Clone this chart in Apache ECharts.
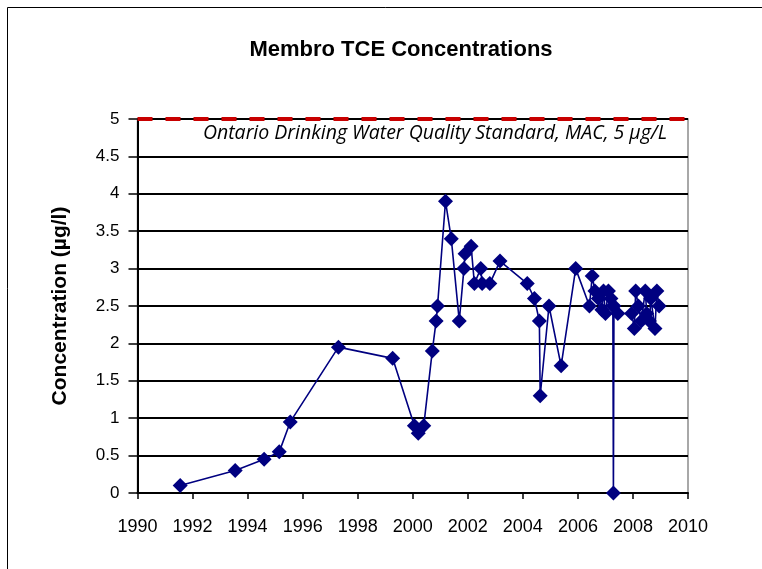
<!DOCTYPE html>
<html>
<head>
<meta charset="utf-8">
<script src="https://cdn.jsdelivr.net/npm/echarts@6/dist/echarts.min.js"></script>
<style>
  html, body { margin: 0; padding: 0; background: #fff; }
  #chart { width: 762px; height: 569px; }
</style>
</head>
<body>
<div id="chart"></div>
<script>
// Sampling dates (decimal years) and measured TCE concentrations (µg/L)
const sampleDates = [
  1991.55, 1993.55, 1994.6, 1995.15, 1995.55, 1997.3, 1999.27,
  2000.06, 2000.2, 2000.4, 2000.71, 2000.85, 2000.9, 2001.19, 2001.4,
  2001.69, 2001.86, 2001.9, 2002.12, 2002.24, 2002.47, 2002.52, 2002.8,
  2003.17, 2004.16, 2004.42, 2004.6, 2004.63, 2004.95, 2005.39, 2005.92,
  2006.42, 2006.52, 2006.62, 2006.74, 2006.87, 2006.93, 2007.0, 2007.11,
  2007.2, 2007.27, 2007.29, 2007.31, 2007.45, 2007.95, 2008.05, 2008.1,
  2008.2, 2008.3, 2008.45, 2008.5, 2008.6, 2008.65, 2008.8, 2008.87, 2008.95
];
const tceValues = [
  0.1, 0.3, 0.45, 0.55, 0.95, 1.95, 1.8,
  0.9, 0.8, 0.9, 1.9, 2.3, 2.5, 3.9, 3.4,
  2.3, 3.0, 3.2, 3.3, 2.8, 3.0, 2.8, 2.8,
  3.1, 2.8, 2.6, 2.3, 1.3, 2.5, 1.7, 3.0,
  2.5, 2.9, 2.7, 2.6, 2.45, 2.7, 2.4, 2.7,
  2.6, 2.5, 0, 2.5, 2.4, 2.4, 2.2, 2.7,
  2.5, 2.3, 2.7, 2.4, 2.3, 2.6, 2.2, 2.7, 2.5
];

// Ontario Drinking Water Quality Standard (MAC) drawn across the full date range
const standardDates = [1990, 2010];
const standardValues = [5, 5];

const yTickLabels = ['0', '0.5', '1', '1.5', '2', '2.5', '3', '3.5', '4', '4.5', '5'];

const chart = echarts.init(document.getElementById('chart'), null, { renderer: 'canvas' });

const option = {
  backgroundColor: '#ffffff',
  animation: false,
  title: {
    text: 'Membro TCE Concentrations',
    left: 396,
    top: 34,
    textAlign: 'center',
    textStyle: { fontFamily: 'Liberation Sans, Arial', fontWeight: 'bold', fontSize: 22, color: '#000' }
  },
  graphic: [
    {
      type: 'rect',
      shape: { x: 7.5, y: 7.5, width: 800, height: 600 },
      style: { fill: 'none', stroke: '#000', lineWidth: 1 },
      silent: true, z: -10
    },
    {
      type: 'text',
      x: 667, y: 133,
      style: {
        text: 'Ontario Drinking Water Quality Standard, MAC, 5 \u00b5g/L',
        font: 'italic 19.5px "Open Sans", Lato, sans-serif',
        fill: '#000',
        align: 'right',
        verticalAlign: 'middle'
      },
      z: 50
    }
  ],
  grid: {
    left: 137.5, top: 119, width: 550.5, height: 374,
    show: true, borderColor: '#8c8c8c', borderWidth: 1.5, backgroundColor: 'transparent'
  },
  xAxis: {
    type: 'value',
    min: 1990, max: 2010, interval: 2,
    axisLine: { show: true, onZero: false, lineStyle: { color: '#000', width: 2 } },
    axisTick: { show: true, inside: false, length: 6, lineStyle: { color: '#000', width: 1.5 } },
    axisLabel: {
      margin: 25, color: '#000', fontSize: 18, fontFamily: 'Liberation Sans, Arial',
      formatter: v => String(Math.round(v))
    },
    splitLine: { show: false }
  },
  yAxis: {
    type: 'value',
    min: 0, max: 5, interval: 0.5,
    name: 'Concentration (\u00b5g/l)',
    nameLocation: 'middle',
    nameGap: 67,
    nameRotate: 90,
    nameTextStyle: { fontFamily: 'Liberation Sans, Arial', fontWeight: 'bold', fontSize: 21, color: '#000' },
    axisLine: { show: true, lineStyle: { color: '#000', width: 2 } },
    axisTick: { show: true, inside: false, length: 9, lineStyle: { color: '#000', width: 1.5 } },
    axisLabel: {
      margin: 18, color: '#000', fontSize: 17, fontFamily: 'Liberation Sans, Arial',
      formatter: v => yTickLabels[Math.round(v * 2)]
    },
    splitLine: { show: true, lineStyle: { color: '#000', width: 2 } }
  },
  series: [
    {
      name: 'TCE',
      type: 'line',
      data: sampleDates.map((d, i) => [d, tceValues[i]]),
      symbol: 'diamond',
      symbolSize: 15,
      showAllSymbol: true,
      itemStyle: { color: '#000080' },
      lineStyle: { color: '#000080', width: 1.6 },
      z: 10
    },
    {
      name: 'MAC',
      type: 'line',
      data: standardDates.map((d, i) => [d, standardValues[i]]),
      symbol: 'none',
      lineStyle: { color: '#c80000', width: 4, type: [15, 13] },
      z: 5
    }
  ]
};

chart.setOption(option);
</script>
</body>
</html>
